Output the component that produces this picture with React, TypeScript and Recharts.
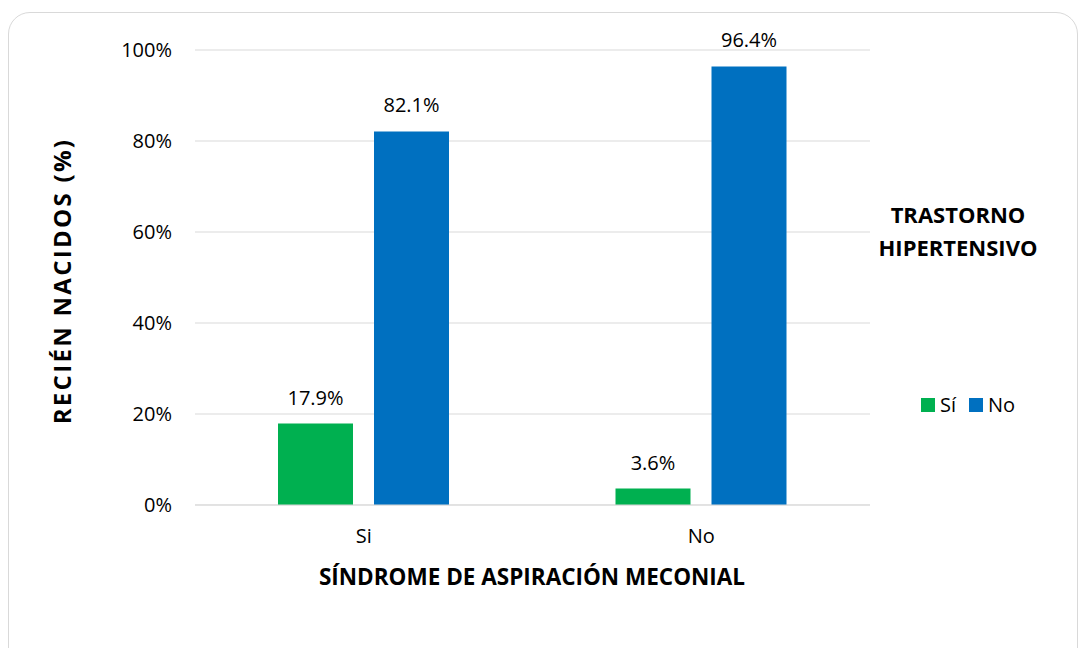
import { BarChart, Bar, XAxis, YAxis, CartesianGrid, LabelList } from 'recharts';

const categories = ['Si', 'No'];
const siValues = [17.9, 3.6];
const noValues = [82.1, 96.4];
const yTicks = [0, 20, 40, 60, 80, 100];

const data = categories.map((name, i) => ({ name, si: siValues[i], no: noValues[i] }));

const FONT = '"Open Sans", sans-serif';
const GREEN = '#00b050';
const BLUE = '#0070c0';

const pct = (v: number) => `${v.toFixed(1)}%`;

export default function App() {
  return (
    <div style={{ position: 'fixed', left: 0, top: 0, width: 1084, height: 648, background: '#fff', overflow: 'hidden' }}>
      <div
        style={{
          position: 'absolute',
          left: 8,
          top: 12,
          width: 1068,
          height: 680,
          border: '1.5px solid #d9d9d9',
          borderRadius: 22,
        }}
      />
      <div style={{ position: 'absolute', left: 0, top: 0 }}>
        <BarChart
          width={1084}
          height={648}
          data={data}
          margin={{ top: 50, right: 214, bottom: 0, left: 0 }}
          barGap={21}
          barCategoryGap={83}
        >
          <CartesianGrid vertical={false} stroke="#d9d9d9" strokeWidth={1} />
          <XAxis
            dataKey="name"
            height={143}
            axisLine={{ stroke: '#d9d9d9' }}
            tickLine={false}
            tick={{ fill: '#000', fontSize: 20, fontFamily: FONT }}
            tickMargin={18}
          />
          <YAxis
            domain={[0, 100]}
            ticks={yTicks}
            axisLine={false}
            tickLine={false}
            tickFormatter={(v: number) => `${v}%`}
            tick={{ fill: '#000', fontSize: 20, fontFamily: FONT }}
            tickMargin={17}
            width={195}
          />
          <Bar dataKey="si" name="Sí" fill={GREEN} isAnimationActive={false}>
            <LabelList dataKey="si" position="top" offset={19} formatter={pct} style={{ fill: '#000', fontSize: 20, fontFamily: FONT }} />
          </Bar>
          <Bar dataKey="no" name="No" fill={BLUE} isAnimationActive={false}>
            <LabelList dataKey="no" position="top" offset={19} formatter={pct} style={{ fill: '#000', fontSize: 20, fontFamily: FONT }} />
          </Bar>
        </BarChart>
      </div>
      <div
        style={{
          position: 'absolute',
          left: 282,
          top: 560,
          width: 500,
          textAlign: 'center',
          fontFamily: FONT,
          fontWeight: 700,
          fontSize: 22.5,
          lineHeight: '34px',
          color: '#000',
        }}
      >
        SÍNDROME DE ASPIRACIÓN MECONIAL
      </div>
      <div
        style={{
          position: 'absolute',
          left: 62 - 200,
          top: 281 - 17,
          width: 400,
          textAlign: 'center',
          fontFamily: FONT,
          fontWeight: 700,
          fontSize: 24,
          letterSpacing: 2.3,
          lineHeight: '34px',
          color: '#000',
          transform: 'rotate(-90deg)',
        }}
      >
        RECIÉN NACIDOS (%)
      </div>
      <div
        style={{
          position: 'absolute',
          left: 878,
          top: 198,
          width: 160,
          textAlign: 'center',
          fontFamily: FONT,
          fontWeight: 700,
          fontSize: 22,
          lineHeight: '33px',
          color: '#000',
        }}
      >
        TRASTORNO
        <br />
        HIPERTENSIVO
      </div>
      <div
        style={{
          position: 'absolute',
          left: 921,
          top: 391,
          fontFamily: FONT,
          fontSize: 20,
          lineHeight: '28px',
          color: '#000',
          display: 'flex',
          alignItems: 'center',
          gap: 5,
        }}
      >
        <span style={{ display: 'inline-block', width: 14, height: 14, background: GREEN }} />
        <span style={{ marginRight: 8 }}>Sí</span>
        <span style={{ display: 'inline-block', width: 14, height: 14, background: BLUE }} />
        <span>No</span>
      </div>
    </div>
  );
}
